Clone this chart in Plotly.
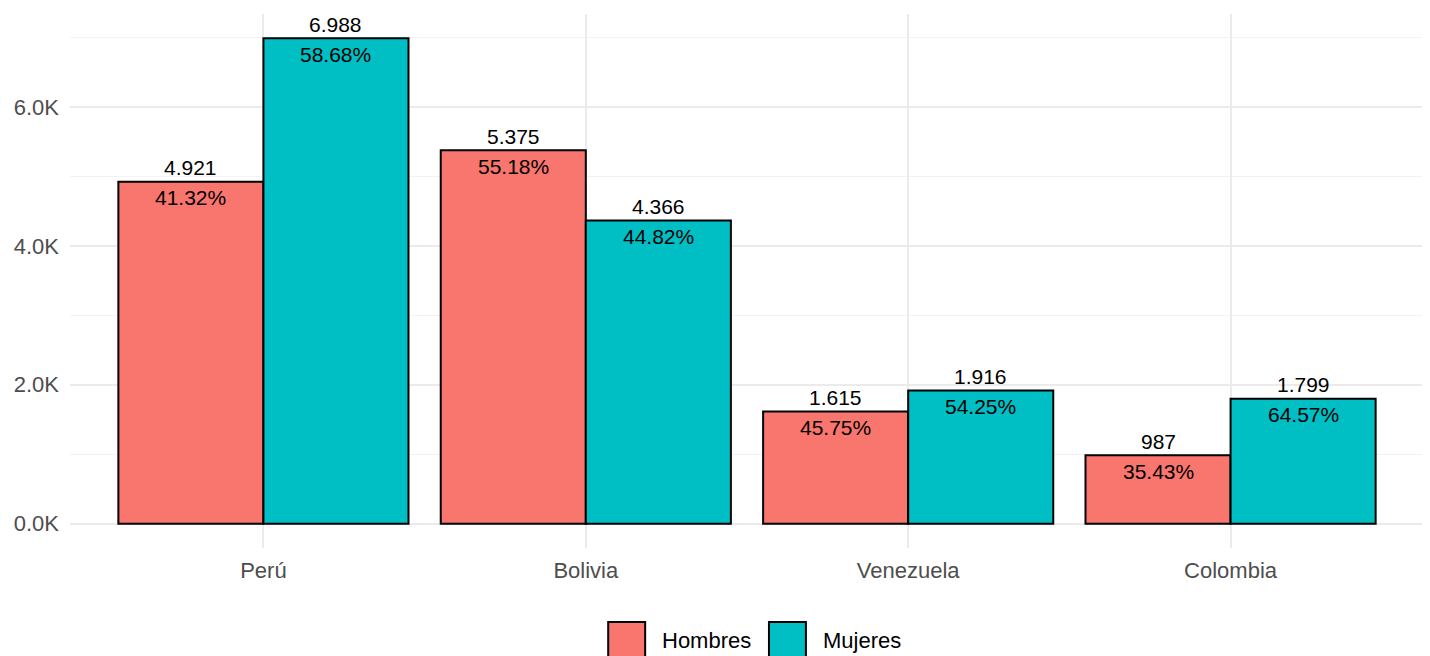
import plotly.graph_objects as go

paises = ["Perú", "Bolivia", "Venezuela", "Colombia"]
hombres = [4921, 5375, 1615, 987]
mujeres = [6988, 4366, 1916, 1799]
pct_hombres = ["41.32%", "55.18%", "45.75%", "35.43%"]
pct_mujeres = ["58.68%", "44.82%", "54.25%", "64.57%"]
series = ["Hombres", "Mujeres"]
colores = ["#F8766D", "#00BFC4"]
y_ticks = [0, 2000, 4000, 6000]
y_tick_labels = ["0.0K", "2.0K", "4.0K", "6.0K"]

def fmt_count(v):
    return f"{v:,}".replace(",", ".")

FONT = "Liberation Sans, Arial"
idx = list(range(1, len(paises) + 1))
bar_w = 0.45
offsets = [-bar_w / 2, bar_w / 2]

# page body has an 8px margin: compensate
W, H = 1422, 648
ML, MR, MT, MB = 60, 6, 6, 108
PW, PH = W - ML - MR, H - MT - MB

fig = go.Figure()
for s, vals, pcts, col, off in zip(series, [hombres, mujeres], [pct_hombres, pct_mujeres], colores, offsets):
    xs = [i + off for i in idx]
    fig.add_trace(go.Bar(
        x=xs, y=vals, width=bar_w, name=s,
        marker=dict(color=col, line=dict(color="black", width=2)),
        showlegend=False, hoverinfo="skip",
    ))
    for x, v, p in zip(xs, vals, pcts):
        fig.add_annotation(x=x, y=v, text=fmt_count(v), showarrow=False,
                           yanchor="middle", yshift=14,
                           font=dict(family=FONT, size=21, color="black"))
        fig.add_annotation(x=x, y=v, text=p, showarrow=False,
                           yanchor="middle", yshift=-16,
                           font=dict(family=FONT, size=21, color="black"))

ymax = max(max(hombres), max(mujeres))
fig.update_layout(
    width=W, height=H,
    paper_bgcolor="white", plot_bgcolor="white",
    margin=dict(l=ML, r=MR, t=MT, b=MB, pad=0),
    font=dict(family=FONT, size=22, color="#4D4D4D"),
    xaxis=dict(
        range=[0.4, len(paises) + 0.6],
        tickvals=idx, ticktext=paises,
        showgrid=True, gridcolor="#EBEBEB", gridwidth=1.5,
        zeroline=False, showline=False, ticks="",
        ticklabelstandoff=7,
        tickfont=dict(family=FONT, size=22, color="#4D4D4D"),
    ),
    yaxis=dict(
        range=[-0.05 * ymax, 1.05 * ymax],
        tickvals=y_ticks, ticktext=y_tick_labels,
        showgrid=True, gridcolor="#EBEBEB", gridwidth=1.5,
        minor=dict(dtick=1000, tick0=0, showgrid=True, gridcolor="#F2F2F2", gridwidth=1),
        zeroline=False, showline=False, ticks="",
        ticklabelstandoff=10,
        tickfont=dict(family=FONT, size=22, color="#4D4D4D"),
    ),
)

# custom legend (pixel positions in target page, converted to paper coords)
def px_x(p):
    return (p - 8 - ML) / PW

def px_y(p):
    return (H - MB - (p - 8)) / PH

leg_x = [607, 768]
for s, col, lx in zip(series, colores, leg_x):
    fig.add_shape(type="rect", xref="paper", yref="paper",
                  x0=px_x(lx), x1=px_x(lx + 37),
                  y0=px_y(660), y1=px_y(622),
                  fillcolor=col, line=dict(color="black", width=2))
    fig.add_annotation(xref="paper", yref="paper",
                       x=px_x(lx + 52), y=px_y(640),
                       text=s, showarrow=False, xanchor="left", yanchor="middle",
                       font=dict(family=FONT, size=22, color="black"))

fig.write_html("out.html")
